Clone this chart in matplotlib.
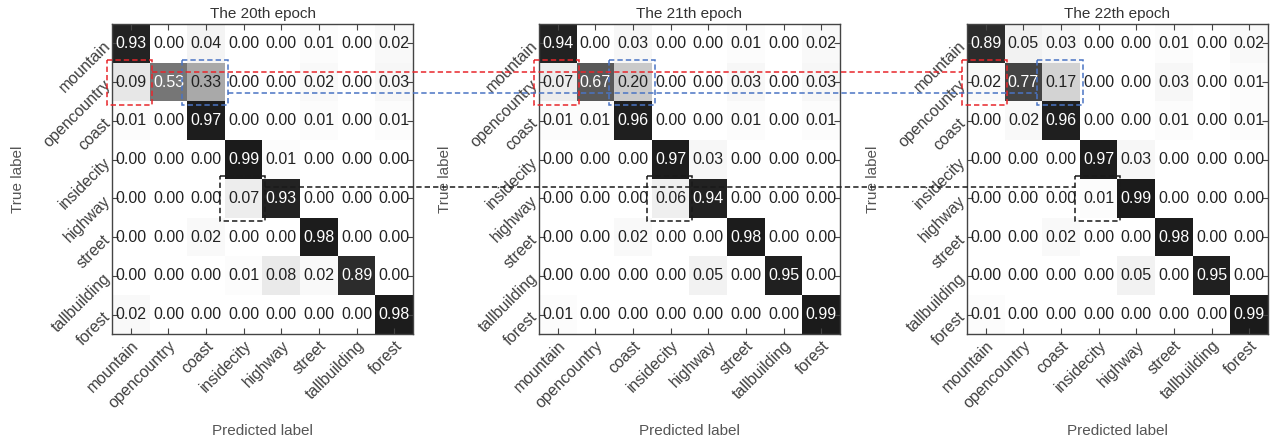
import matplotlib
matplotlib.use("Agg")
import matplotlib.pyplot as plt
import numpy as np
from matplotlib.colors import LinearSegmentedColormap
from matplotlib.patches import Rectangle
from matplotlib.lines import Line2D

plt.rcParams['font.family'] = ['Liberation Sans', 'DejaVu Sans']

classes = ["mountain", "opencountry", "coast", "insidecity",
           "highway", "street", "tallbuilding", "forest"]
titles = ["The 20th epoch", "The 21th epoch", "The 22th epoch"]

cm20 = [
    [0.93, 0.00, 0.04, 0.00, 0.00, 0.01, 0.00, 0.02],
    [0.09, 0.53, 0.33, 0.00, 0.00, 0.02, 0.00, 0.03],
    [0.01, 0.00, 0.97, 0.00, 0.00, 0.01, 0.00, 0.01],
    [0.00, 0.00, 0.00, 0.99, 0.01, 0.00, 0.00, 0.00],
    [0.00, 0.00, 0.00, 0.07, 0.93, 0.00, 0.00, 0.00],
    [0.00, 0.00, 0.02, 0.00, 0.00, 0.98, 0.00, 0.00],
    [0.00, 0.00, 0.00, 0.01, 0.08, 0.02, 0.89, 0.00],
    [0.02, 0.00, 0.00, 0.00, 0.00, 0.00, 0.00, 0.98],
]
cm21 = [
    [0.94, 0.00, 0.03, 0.00, 0.00, 0.01, 0.00, 0.02],
    [0.07, 0.67, 0.20, 0.00, 0.00, 0.03, 0.00, 0.03],
    [0.01, 0.01, 0.96, 0.00, 0.00, 0.01, 0.00, 0.01],
    [0.00, 0.00, 0.00, 0.97, 0.03, 0.00, 0.00, 0.00],
    [0.00, 0.00, 0.00, 0.06, 0.94, 0.00, 0.00, 0.00],
    [0.00, 0.00, 0.02, 0.00, 0.00, 0.98, 0.00, 0.00],
    [0.00, 0.00, 0.00, 0.00, 0.05, 0.00, 0.95, 0.00],
    [0.01, 0.00, 0.00, 0.00, 0.00, 0.00, 0.00, 0.99],
]
cm22 = [
    [0.89, 0.05, 0.03, 0.00, 0.00, 0.01, 0.00, 0.02],
    [0.02, 0.77, 0.17, 0.00, 0.00, 0.03, 0.00, 0.01],
    [0.00, 0.02, 0.96, 0.00, 0.00, 0.01, 0.00, 0.01],
    [0.00, 0.00, 0.00, 0.97, 0.03, 0.00, 0.00, 0.00],
    [0.00, 0.00, 0.00, 0.01, 0.99, 0.00, 0.00, 0.00],
    [0.00, 0.00, 0.02, 0.00, 0.00, 0.98, 0.00, 0.00],
    [0.00, 0.00, 0.00, 0.00, 0.05, 0.00, 0.95, 0.00],
    [0.01, 0.00, 0.00, 0.00, 0.00, 0.00, 0.00, 0.99],
]
matrices = [cm20, cm21, cm22]

# highlighted cells (row, col) and their colours
highlight_cells = [(1, 0), (1, 2), (4, 3)]
highlight_colors = ["#e8262b", "#4a74c4", "#1a1a1a"]
# y offset (within row, data units) of the connecting lines
link_rows = [0.74, 1.29, 3.71]

cmap = LinearSegmentedColormap.from_list(
    "g", [(0.0, "#ffffff"), (0.33, "#a9a9a9"), (0.53, "#767676"),
          (0.93, "#242424"), (1.0, "#1a1a1a")])

fig = plt.figure(figsize=(12.74, 4.43), dpi=100)
W, H = 1274, 443
lefts = [112, 539, 967]
axw, top, bot = 301, 24, 334

axes = []
dash = (0, (3.5, 2))
for k, (m, t) in enumerate(zip(matrices, titles)):
    ax = fig.add_axes([lefts[k] / W, (H - bot) / H, axw / W, (bot - top) / H])
    axes.append(ax)
    arr = np.array(m)
    ax.imshow(arr, cmap=cmap, vmin=0, vmax=1, aspect='auto', interpolation='nearest')
    n = len(classes)
    for i in range(n):
        for j in range(n):
            v = arr[i, j]
            ax.text(j, i, f"{v:.2f}", ha='center', va='center', fontsize=11.5,
                    color='white' if v > 0.5 else '#222222')
    ax.set_xticks(range(n))
    ax.set_yticks(range(n))
    ax.set_xticklabels(classes, rotation=45, ha='right', rotation_mode='anchor')
    ax.set_yticklabels(classes, rotation=45, ha='right', va='center',
                       rotation_mode='anchor')
    ax.tick_params(direction='in', top=True, right=True, length=4, width=0.8,
                   color='#444444', labelsize=11.5, labelcolor='#404040', pad=3)
    for s in ax.spines.values():
        s.set_color('#444444')
        s.set_linewidth(1.0)
    ax.set_title(t, fontsize=11, color='#333333', pad=4)
    ax.set_xlabel("Predicted label", fontsize=11, color='#555555')
    ax.set_ylabel("True label", fontsize=11, color='#555555')
    ax.xaxis.set_label_coords(0.5, -0.29)
    ax.yaxis.set_label_coords(-0.29, 0.5)
    for (r, c), col in zip(highlight_cells, highlight_colors):
        ax.add_patch(Rectangle((c - 0.64, r - 0.58), 1.21, 1.16, fill=False,
                               edgecolor=col, lw=1.1, linestyle=dash,
                               clip_on=False, zorder=5))

to_fig = fig.transFigure.inverted()
for (r, c), col, yl in zip(highlight_cells, highlight_colors, link_rows):
    pA = to_fig.transform(axes[0].transData.transform((c + 0.57, yl)))
    pB = to_fig.transform(axes[2].transData.transform((c - 0.64, yl)))
    line = Line2D([pA[0], pB[0]], [pA[1], pB[1]], transform=fig.transFigure,
                  color=col, lw=1.1, linestyle=dash, zorder=10)
    fig.add_artist(line)

fig.savefig("out.png", dpi=100)
